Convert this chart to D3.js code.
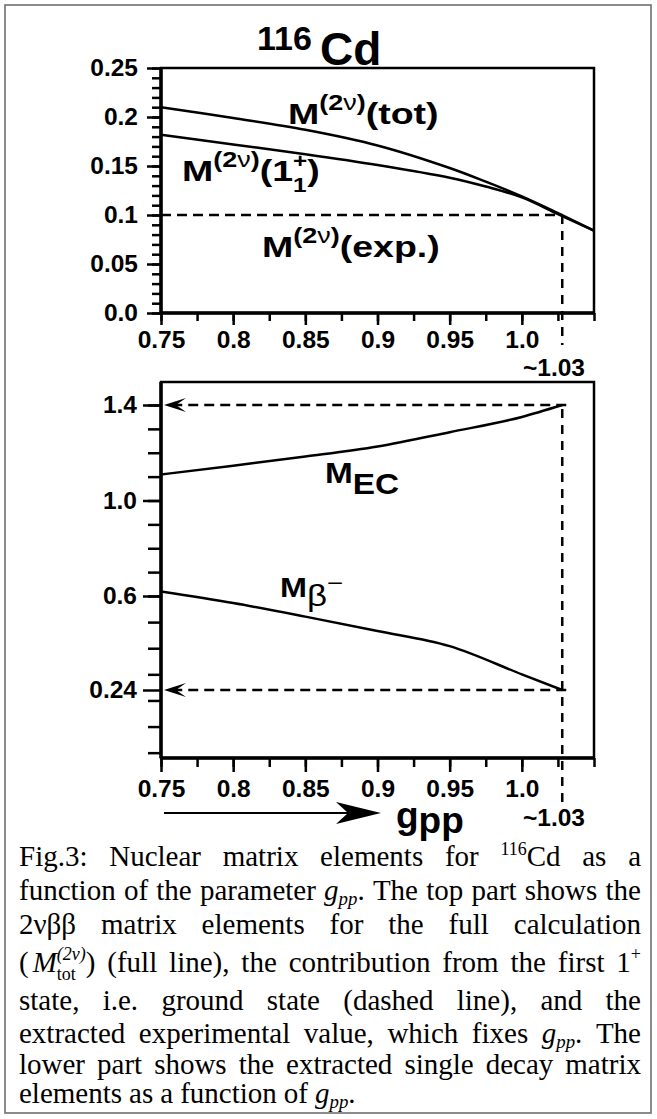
<!DOCTYPE html>
<html>
<head>
<meta charset="utf-8">
<script src="https://d3js.org/d3.v7.min.js"></script>
<style>
  body { margin: 0; background: #fff; }
</style>
</head>
<body>
<script>
// ---- data ----
const gppTop = [0.75, 0.8, 0.85, 0.9, 0.95, 0.975, 1.0, 1.025, 1.05];
const mTot   = [0.210, 0.199, 0.187, 0.171, 0.148, 0.134, 0.119, 0.102, 0.084];
const m1Plus = [0.182, 0.172, 0.162, 0.151, 0.138, 0.129, 0.118, 0.101, 0.084];
const mExp = 0.1;
const gFix = 1.028;

const gppLow = [0.75, 0.8, 0.85, 0.9, 0.95, 1.0, 1.028];
const mEC    = [1.109, 1.146, 1.184, 1.226, 1.286, 1.35, 1.40];
const mBeta  = [0.619, 0.573, 0.521, 0.466, 0.408, 0.30, 0.24];

const xTicks = [0.75, 0.8, 0.85, 0.9, 0.95, 1.0];
const xTickLabels = ["0.75", "0.8", "0.85", "0.9", "0.95", "1.0"];
const yTopTicks = [0, 0.05, 0.1, 0.15, 0.2, 0.25];
const yTopLabels = ["0.0", "0.05", "0.1", "0.15", "0.2", "0.25"];
const yLowTicks = [1.4, 1.0, 0.6, 0.24];
const yLowLabels = ["1.4", "1.0", "0.6", "0.24"];

const sans = "'Liberation Sans', Arial, Helvetica, sans-serif";
const serif = "'Liberation Serif', 'Times New Roman', serif";

let width = 657, height = 1119;
let svg = d3.select("body").append("svg")
    .attr("width", width)
    .attr("height", height);

svg.append("rect")
    .attr("x", 5).attr("y", 5).attr("width", 646).attr("height", 1108)
    .attr("fill", "none").attr("stroke", "#666").attr("stroke-width", 1.5);

// writes a run of segments (sub/superscripts, italics) starting at x,y
function rich(g, x, y, segs, base) {
    let cx = x, pend = 0;
    segs.forEach(s => {
        let t = g.append("text")
            .attr("x", cx).attr("y", y + (s.dy || 0))
            .attr("font-family", base.family)
            .attr("font-size", base.size * (s.k || 1))
            .attr("font-weight", s.w || base.weight)
            .attr("font-style", s.i ? "italic" : "normal")
            .attr("fill", "#000")
            .text(s.t);
        let w = t.node().getComputedTextLength();
        if (s.stack) { pend = w; }
        else { cx += Math.max(w, pend) + (s.gap || 0); pend = 0; }
    });
    return cx - x;
}

// the figure's bold labels are set wide
function wideLabel(g, x, y, segs, base, sx) {
    let inner = g.append("g").attr("transform", `translate(${x},${y}) scale(${sx},1)`);
    return rich(inner, 0, 0, segs, base) * sx;
}

// ---- top panel ----
let x = d3.scaleLinear().domain([0.75, 1.05]).range([161, 594]);
let yTop = d3.scaleLinear().domain([0, 0.25]).range([313, 68]);

let upper = svg.append("g");
upper.append("rect")
    .attr("x", x(0.75)).attr("y", yTop(0.25))
    .attr("width", x(1.05) - x(0.75)).attr("height", yTop(0) - yTop(0.25))
    .attr("fill", "none").attr("stroke", "#000").attr("stroke-width", 2.5);

function styleAxis(g, sw) {
    g.select(".domain").remove();
    g.selectAll("line").attr("stroke", "#000").attr("stroke-width", sw);
    g.selectAll("text")
        .attr("font-family", sans).attr("font-weight", "bold")
        .attr("font-size", 24.5).attr("fill", "#000");
}

upper.append("g").attr("transform", `translate(${x(0.75)},0)`)
    .call(d3.axisLeft(yTop).tickValues(d3.range(0, 0.2501, 0.01)).tickSize(9).tickFormat(""))
    .call(g => styleAxis(g, 2.5));
upper.append("g").attr("transform", `translate(${x(0.75)},0)`)
    .call(d3.axisLeft(yTop).tickValues(yTopTicks).tickSize(14).tickPadding(9)
        .tickFormat((d, i) => yTopLabels[i]))
    .call(g => styleAxis(g, 2.5));
upper.append("g").attr("transform", `translate(0,${yTop(0)})`)
    .call(d3.axisBottom(x).tickValues(d3.range(0.75, 1.0501, 0.025)).tickSize(8).tickFormat(""))
    .call(g => styleAxis(g, 2.5));
upper.append("g").attr("transform", `translate(0,${yTop(0)})`)
    .call(d3.axisBottom(x).tickValues(xTicks).tickSize(12).tickPadding(6)
        .tickFormat((d, i) => xTickLabels[i]))
    .call(g => styleAxis(g, 2.5));
upper.append("line")
    .attr("x1", x(0.75)).attr("x2", x(0.75)).attr("y1", yTop(0.25)).attr("y2", yTop(0))
    .attr("stroke", "#000").attr("stroke-width", 3.5);
upper.append("line")
    .attr("x1", x(0.75)).attr("x2", x(1.05)).attr("y1", yTop(0)).attr("y2", yTop(0))
    .attr("stroke", "#000").attr("stroke-width", 3.5);

let lineTop = d3.line().curve(d3.curveCatmullRom)
    .x((d, i) => x(gppTop[i])).y(d => yTop(d));
upper.append("path").datum(mTot).attr("d", lineTop)
    .attr("fill", "none").attr("stroke", "#000").attr("stroke-width", 2.5);
upper.append("path").datum(m1Plus).attr("d", lineTop)
    .attr("fill", "none").attr("stroke", "#000").attr("stroke-width", 2.5);

// experimental value and the g_pp it fixes
upper.append("line")
    .attr("x1", x(0.75)).attr("x2", x(gFix)).attr("y1", yTop(mExp)).attr("y2", yTop(mExp))
    .attr("stroke", "#000").attr("stroke-width", 2.5).attr("stroke-dasharray", "10,6");
upper.append("line")
    .attr("x1", x(gFix)).attr("x2", x(gFix)).attr("y1", yTop(mExp)).attr("y2", yTop(0) + 32)
    .attr("stroke", "#000").attr("stroke-width", 2.5).attr("stroke-dasharray", "9,7");

rich(upper, 257, 50, [{ t: "116" }], { family: sans, size: 34, weight: "bold" });
rich(upper, 320, 65, [{ t: "Cd" }], { family: sans, size: 46, weight: "bold" });

let lab = { family: sans, size: 30, weight: "bold" };
let sup2nu = [
    { t: "(2", k: 0.72, dy: -14 },
    { t: "ν", k: 0.72, dy: -14, w: "normal" },
    { t: ")", k: 0.72, dy: -14 }
];
wideLabel(upper, 288, 124, [{ t: "M" }].concat(sup2nu, [{ t: "(tot)" }]), lab, 1.25);
wideLabel(upper, 182, 181, [{ t: "M" }].concat(sup2nu, [
    { t: "(1" },
    { t: "+", k: 0.65, dy: -13, stack: true },
    { t: "1", k: 0.65, dy: 11 },
    { t: ")" }
]), lab, 1.25);
wideLabel(upper, 262, 257, [{ t: "M" }].concat(sup2nu, [{ t: "(exp.)" }]), lab, 1.25);
rich(upper, 523, 376, [{ t: "~1.03" }], { family: sans, size: 24.5, weight: "bold" });

// ---- bottom panel ----
let yLow = d3.scaleLinear().domain([1.4, 0.6, 0.24]).range([405, 596, 690]);
let lowTop = 382, lowBot = 758;

let lower = svg.append("g");
lower.append("rect")
    .attr("x", x(0.75)).attr("y", lowTop)
    .attr("width", x(1.05) - x(0.75)).attr("height", lowBot - lowTop)
    .attr("fill", "none").attr("stroke", "#000").attr("stroke-width", 2.5);

lower.append("g").attr("transform", `translate(${x(0.75)},0)`)
    .call(d3.axisLeft(yLow).tickValues(d3.range(0, 15).map(i => i / 10)).tickSize(13).tickFormat(""))
    .call(g => styleAxis(g, 2.5));
lower.append("g").attr("transform", `translate(${x(0.75)},0)`)
    .call(d3.axisLeft(yLow).tickValues(yLowTicks).tickSize(18).tickPadding(6)
        .tickFormat((d, i) => yLowLabels[i]))
    .call(g => styleAxis(g, 2.5));
lower.append("g").attr("transform", `translate(0,${lowBot})`)
    .call(d3.axisBottom(x).tickValues(d3.range(0.75, 1.0501, 0.025)).tickSize(9).tickFormat(""))
    .call(g => styleAxis(g, 2.5));
lower.append("g").attr("transform", `translate(0,${lowBot})`)
    .call(d3.axisBottom(x).tickValues(xTicks).tickSize(14).tickPadding(8)
        .tickFormat((d, i) => xTickLabels[i]))
    .call(g => styleAxis(g, 2.5));
lower.append("line")
    .attr("x1", x(0.75)).attr("x2", x(0.75)).attr("y1", lowTop).attr("y2", lowBot)
    .attr("stroke", "#000").attr("stroke-width", 3.5);
lower.append("line")
    .attr("x1", x(0.75)).attr("x2", x(1.05)).attr("y1", lowBot).attr("y2", lowBot)
    .attr("stroke", "#000").attr("stroke-width", 3.5);

let lineLow = d3.line().curve(d3.curveMonotoneX)
    .x((d, i) => x(gppLow[i])).y(d => yLow(d));
lower.append("path").datum(mEC).attr("d", lineLow)
    .attr("fill", "none").attr("stroke", "#000").attr("stroke-width", 2.5);
lower.append("path").datum(mBeta).attr("d", lineLow)
    .attr("fill", "none").attr("stroke", "#000").attr("stroke-width", 2.5);

// dashed read-off arrows
let ends = [mEC[mEC.length - 1], mBeta[mBeta.length - 1]];
ends.forEach(v => {
    lower.append("line")
        .attr("x1", x(gFix) + 4).attr("x2", x(0.75) + 14).attr("y1", yLow(v)).attr("y2", yLow(v))
        .attr("stroke", "#000").attr("stroke-width", 2.5).attr("stroke-dasharray", "10,6");
    let tx = x(0.75) + 3, ty = yLow(v);
    lower.append("path")
        .attr("d", `M${tx},${ty} L${tx + 22},${ty - 7} L${tx + 12},${ty} L${tx + 22},${ty + 7} Z`)
        .attr("fill", "#000");
});
lower.append("line")
    .attr("x1", x(gFix)).attr("x2", x(gFix)).attr("y1", yLow(ends[0]) + 4).attr("y2", lowBot + 50)
    .attr("stroke", "#000").attr("stroke-width", 2.5).attr("stroke-dasharray", "9,7");

wideLabel(lower, 325, 483, [{ t: "M" }, { t: "EC", dy: 11 }], { family: sans, size: 29, weight: "bold" }, 1.15);
wideLabel(lower, 280, 597, [
    { t: "M", k: 0.93 },
    { t: "β", dy: 9, w: "normal" },
    { t: "−", k: 0.8, dy: -6, w: "normal" }
], { family: sans, size: 29, weight: "bold" }, 1.2);
rich(lower, 523, 826, [{ t: "~1.03" }], { family: sans, size: 24.5, weight: "bold" });

// g_pp axis arrow
lower.append("line")
    .attr("x1", 164).attr("x2", 355).attr("y1", 813).attr("y2", 813)
    .attr("stroke", "#000").attr("stroke-width", 2);
lower.append("path")
    .attr("d", "M381,813 L336,802 L348,813 L336,824 Z")
    .attr("fill", "#000");
rich(lower, 396, 828, [{ t: "g" }, { t: "pp", dy: 5 }], { family: sans, size: 37, weight: "bold" });

// ---- caption ----
let capFont = { family: serif, size: 29, weight: "normal" };
let gpp = [{ t: "g", i: true }, { t: "pp", i: true, k: 0.65, dy: 5 }];
let captionLines = [
    [[{ t: "Fig.3:" }], [{ t: "Nuclear" }], [{ t: "matrix" }], [{ t: "elements" }], [{ t: "for" }],
     [{ t: "116", k: 0.62, dy: -11 }, { t: "Cd" }], [{ t: "as" }], [{ t: "a" }]],
    [[{ t: "function" }], [{ t: "of" }], [{ t: "the" }], [{ t: "parameter" }],
     gpp.concat([{ t: "." }]), [{ t: "The" }], [{ t: "top" }], [{ t: "part" }], [{ t: "shows" }], [{ t: "the" }]],
    [[{ t: "2νββ" }], [{ t: "matrix" }], [{ t: "elements" }], [{ t: "for" }], [{ t: "the" }],
     [{ t: "full" }], [{ t: "calculation" }]],
    [[{ t: "(", gap: 4 }, { t: "M", i: true }, { t: "tot", k: 0.62, dy: 8, stack: true },
      { t: "(2ν)", k: 0.62, dy: -12, i: true }, { t: ")" }],
     [{ t: "(full" }], [{ t: "line)," }], [{ t: "the" }], [{ t: "contribution" }], [{ t: "from" }],
     [{ t: "the" }], [{ t: "first" }], [{ t: "1" }, { t: "+", k: 0.62, dy: -12 }]],
    [[{ t: "state," }], [{ t: "i.e." }], [{ t: "ground" }], [{ t: "state" }], [{ t: "(dashed" }],
     [{ t: "line)," }], [{ t: "and" }], [{ t: "the" }]],
    [[{ t: "extracted" }], [{ t: "experimental" }], [{ t: "value," }], [{ t: "which" }], [{ t: "fixes" }],
     gpp.concat([{ t: "." }]), [{ t: "The" }]],
    [[{ t: "lower" }], [{ t: "part" }], [{ t: "shows" }], [{ t: "the" }], [{ t: "extracted" }],
     [{ t: "single" }], [{ t: "decay" }], [{ t: "matrix" }]],
    [[{ t: "elements" }], [{ t: "as" }], [{ t: "a" }], [{ t: "function" }], [{ t: "of" }],
     gpp.concat([{ t: "." }])]
];
let capBase = [866, 900, 934, 972, 1010, 1043, 1074, 1103];
let capL = 19, capR = 641;

let cap = svg.append("g");
captionLines.forEach((words, li) => {
    let gs = words.map(w => {
        let g = cap.append("g");
        let wd = rich(g, 0, capBase[li], w, capFont);
        return { g: g, w: wd };
    });
    let total = d3.sum(gs, d => d.w);
    let last = li === captionLines.length - 1;
    let space = last ? 7 : (capR - capL - total) / (gs.length - 1);
    let cx = capL;
    gs.forEach(d => {
        d.g.attr("transform", `translate(${cx},0)`);
        cx += d.w + space;
    });
});
</script>
</body>
</html>
